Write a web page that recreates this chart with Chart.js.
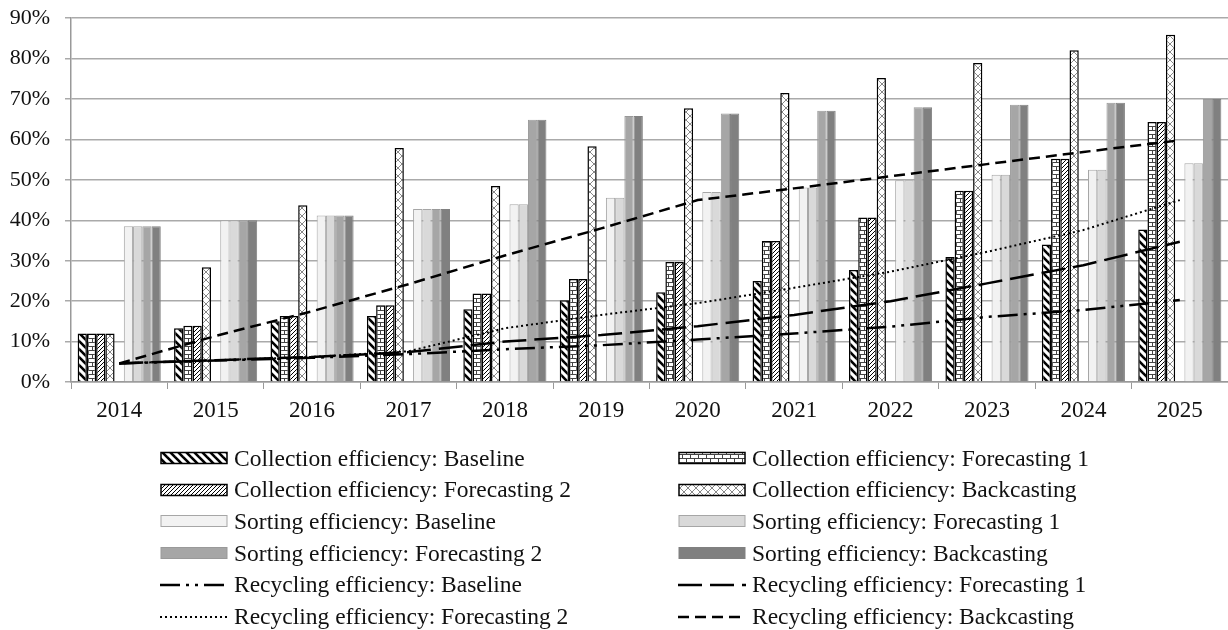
<!DOCTYPE html>
<html lang="en">
<head>
<meta charset="UTF-8">
<title>Collection, sorting and recycling efficiency</title>
<script src="https://cdn.jsdelivr.net/npm/chart.js"></script>
<style>
  body { margin: 0; background: #fff; font-family: "Liberation Serif", "Times New Roman", serif; }
  #wrap { position: relative; top: -10px; width: 1228px; height: 440px; }
  #legend { position: absolute; top: 0; left: 0; width: 1228px; height: 630px; pointer-events: none; }
  .item { position: absolute; height: 32px; display: flex; align-items: center; font-size: 23.5px; color: #111; white-space: nowrap; }
  .item canvas { margin-right: 6px; }
</style>
</head>
<body>
<div id="wrap"><canvas id="grafico"></canvas></div>
<div id="legend"></div>

<script>
  // dados (%)
  const years = ['2014', '2015', '2016', '2017', '2018', '2019', '2020', '2021', '2022', '2023', '2024', '2025'];

  const collBaseline = [12.0, 13.3, 15.0, 16.3, 18.0, 20.2, 22.2, 25.0, 27.7, 30.9, 34.0, 37.7];
  const collForecast1 = [12.0, 13.9, 16.3, 19.0, 21.9, 25.5, 29.7, 34.9, 40.7, 47.3, 55.2, 64.3];
  const collForecast2 = [12.0, 13.9, 16.3, 19.0, 21.9, 25.5, 29.7, 34.9, 40.7, 47.3, 55.2, 64.3];
  const collBackcast = [12.0, 28.4, 43.7, 57.9, 48.5, 58.3, 67.7, 71.5, 75.2, 78.9, 82.1, 85.9];

  const sortBaseline = [38.5, 40.0, 41.2, 42.8, 44.0, 45.6, 47.0, 48.1, 49.9, 51.3, 52.5, 54.1];
  const sortForecast1 = [38.5, 40.0, 41.2, 42.8, 44.0, 45.6, 47.0, 48.1, 49.9, 51.3, 52.5, 54.1];
  const sortForecast2 = [38.5, 40.0, 41.2, 42.8, 64.9, 65.8, 66.4, 67.1, 68.0, 68.6, 69.1, 70.0];
  const sortBackcast = [38.5, 40.0, 41.2, 42.8, 64.9, 65.8, 66.4, 67.1, 68.0, 68.6, 69.1, 70.0];

  const recBaseline = [4.6, 5.3, 6.0, 6.9, 8.1, 9.1, 10.5, 12.0, 13.7, 16.1, 17.8, 20.3];
  const recForecast1 = [4.6, 5.4, 6.2, 7.4, 10.0, 11.6, 13.8, 16.6, 20.0, 24.4, 28.9, 34.7];
  const recForecast2 = [4.6, 5.4, 6.2, 7.6, 13.3, 16.6, 19.5, 23.3, 27.3, 32.2, 37.6, 45.0];
  const recBackcast = [4.6, 11.4, 17.5, 24.2, 31.3, 38.0, 45.0, 47.9, 50.9, 53.9, 56.9, 59.8];

  const yTicks = [0, 10, 20, 30, 40, 50, 60, 70, 80, 90];

  // padrões de preenchimento das barras de coleta
  function criarPadrao(tipo) {
    const c = document.createElement('canvas');
    const ctx = c.getContext('2d');
    c.width = 8; c.height = 8;
    ctx.fillStyle = '#fff';
    ctx.fillRect(0, 0, 8, 8);
    ctx.strokeStyle = '#000';
    if (tipo === 'grosso') {
      ctx.lineWidth = 2.6;
      for (let k = -8; k <= 8; k += 8) {
        ctx.beginPath(); ctx.moveTo(-2, -2 + k); ctx.lineTo(10, 10 + k); ctx.stroke();
      }
    } else if (tipo === 'tijolo') {
      ctx.strokeStyle = '#444';
      ctx.lineWidth = 1;
      ctx.beginPath();
      ctx.moveTo(0, 0.5); ctx.lineTo(8, 0.5);
      ctx.moveTo(0, 4.5); ctx.lineTo(8, 4.5);
      ctx.moveTo(0.5, 0); ctx.lineTo(0.5, 4);
      ctx.moveTo(4.5, 4); ctx.lineTo(4.5, 8);
      ctx.stroke();
    } else if (tipo === 'fino') {
      c.width = 4; c.height = 4;
      ctx.fillStyle = '#fff';
      ctx.fillRect(0, 0, 4, 4);
      ctx.lineWidth = 1;
      for (let k = 0; k <= 8; k += 4) {
        ctx.beginPath(); ctx.moveTo(-1, k + 1); ctx.lineTo(5, k - 5); ctx.stroke();
      }
    } else if (tipo === 'zigue') {
      ctx.strokeStyle = '#888';
      ctx.lineWidth = 1;
      ctx.beginPath();
      ctx.moveTo(0, 8); ctx.lineTo(8, 0);
      ctx.moveTo(0, 4); ctx.lineTo(4, 8);
      ctx.moveTo(4, 0); ctx.lineTo(8, 4);
      ctx.stroke();
    }
    return c;
  }

  const ctxMain = document.getElementById('grafico').getContext('2d');
  const padrao = {
    grosso: ctxMain.createPattern(criarPadrao('grosso'), 'repeat'),
    tijolo: ctxMain.createPattern(criarPadrao('tijolo'), 'repeat'),
    fino: ctxMain.createPattern(criarPadrao('fino'), 'repeat'),
    zigue: ctxMain.createPattern(criarPadrao('zigue'), 'repeat')
  };

  function barra(label, data, fill, borda, bw) {
    return { type: 'bar', label: label, data: data, backgroundColor: fill, borderColor: borda, borderWidth: bw, order: 2, barPercentage: 1.0, categoryPercentage: 0.862 };
  }
  function linha(label, data, dash, lw) {
    return { type: 'line', label: label, data: data, borderColor: '#000', backgroundColor: '#000', borderWidth: lw, borderDash: dash, pointRadius: 0, tension: 0, order: 0, fill: false };
  }

  const datasets = [
    barra('Collection efficiency: Baseline', collBaseline, padrao.grosso, '#000', 1.5),
    barra('Collection efficiency: Forecasting 1', collForecast1, padrao.tijolo, '#000', 1.5),
    barra('Collection efficiency: Forecasting 2', collForecast2, padrao.fino, '#000', 1.5),
    barra('Collection efficiency: Backcasting', collBackcast, padrao.zigue, '#000', 1.5),
    barra('', years.map(() => null), 'transparent', 'transparent', 0),
    barra('Sorting efficiency: Baseline', sortBaseline, '#f2f2f2', '#a6a6a6', 1),
    barra('Sorting efficiency: Forecasting 1', sortForecast1, '#d9d9d9', '#a6a6a6', 1),
    barra('Sorting efficiency: Forecasting 2', sortForecast2, '#a6a6a6', '#999', 1),
    barra('Sorting efficiency: Backcasting', sortBackcast, '#808080', '#808080', 1),
    linha('Recycling efficiency: Baseline', recBaseline, [20, 6, 3, 6, 3, 6], 2.5),
    linha('Recycling efficiency: Forecasting 1', recForecast1, [24, 8], 2.5),
    linha('Recycling efficiency: Forecasting 2', recForecast2, [2, 3], 2),
    linha('Recycling efficiency: Backcasting', recBackcast, [11, 6], 2.5)
  ];

  const fonteX = { family: '"Liberation Serif", "Times New Roman", serif', size: 23 };
  const fonteY = { family: '"Liberation Serif", "Times New Roman", serif', size: 22 };

  new Chart(ctxMain, {
    data: { labels: years, datasets: datasets },
    options: {
      responsive: true,
      maintainAspectRatio: false,
      animation: false,
      layout: { padding: { top: 11, right: 0, left: 0, bottom: 0 } },
      plugins: { legend: { display: false }, tooltip: { enabled: false } },
      scales: {
        x: {
          offset: true,
          grid: { display: true, drawOnChartArea: false, drawTicks: true, tickLength: 7, color: '#999', offset: true },
          border: { color: '#999', width: 1.5 },
          ticks: { color: '#111', font: fonteX, padding: 8 },
          afterFit: s => { s.height = 48; }
        },
        y: {
          min: 0, max: 90,
          afterBuildTicks: s => { s.ticks = yTicks.map(v => ({ value: v })); },
          grid: { color: '#aaa', lineWidth: 1.5, tickLength: 6 },
          border: { color: '#999', width: 1.5 },
          ticks: { color: '#111', font: fonteY, padding: 15, callback: v => v + '%' },
          afterFit: s => { s.width = 71; }
        }
      }
    }
  });

  // legenda em duas colunas
  const legenda = document.getElementById('legend');
  datasets.filter(d => d.label !== '').forEach((d, i) => {
    const col = i % 2, row = Math.floor(i / 2);
    const item = document.createElement('div');
    item.className = 'item';
    item.style.left = (col === 0 ? 160 : 678) + 'px';
    item.style.top = (458 + row * 31.7 - 16) + 'px';
    const sw = document.createElement('canvas');
    sw.width = 68; sw.height = 16;
    const c = sw.getContext('2d');
    if (d.type === 'bar') {
      c.fillStyle = d.backgroundColor;
      c.fillRect(1, 2.5, 66, 11);
      c.strokeStyle = d.borderColor;
      c.lineWidth = d.borderWidth;
      c.strokeRect(1, 2.5, 66, 11);
    } else {
      c.strokeStyle = '#000';
      c.lineWidth = d.borderWidth;
      c.setLineDash(d.borderDash);
      c.beginPath(); c.moveTo(0, 8); c.lineTo(68, 8); c.stroke();
    }
    item.appendChild(sw);
    const t = document.createElement('span');
    t.textContent = d.label;
    item.appendChild(t);
    legenda.appendChild(item);
  });
</script>
</body>
</html>
